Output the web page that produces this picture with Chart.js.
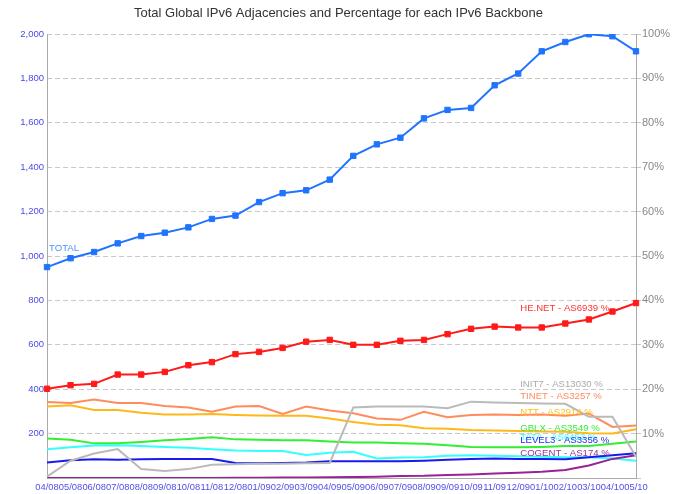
<!DOCTYPE html>
<html>
<head>
<meta charset="utf-8">
<script src="https://cdn.jsdelivr.net/npm/chart.js@4.4.0/dist/chart.umd.min.js"></script>
<style>
html, body { margin: 0; padding: 0; background: #fff; }
#wrap { width: 677px; height: 494px; }
</style>
</head>
<body>
<div id="wrap"><canvas id="chart"></canvas></div>
<script>
const months = ['04/08', '05/08', '06/08', '07/08', '08/08', '09/08', '10/08', '11/08', '12/08',
  '01/09', '02/09', '03/09', '04/09', '05/09', '06/09', '07/09', '08/09', '09/09', '10/09', '11/09', '12/09',
  '01/10', '02/10', '03/10', '04/10', '05/10'];

// adjacency count (left axis)
const total = [950, 990, 1018, 1057, 1090, 1105, 1129, 1167, 1182, 1243, 1283, 1296, 1344,
  1451, 1503, 1533, 1620, 1658, 1667, 1769, 1822, 1922, 1964, 1999, 1990, 1922];

// percentages (right axis)
const henet = [20.1, 20.9, 21.2, 23.3, 23.3, 23.9, 25.4, 26.1, 27.9, 28.4, 29.3, 30.7, 31.1,
  30.0, 30.0, 30.9, 31.1, 32.4, 33.6, 34.1, 33.9, 33.9, 34.8, 35.7, 37.5, 39.4];
const init7 = [0.3, 3.9, 5.5, 6.5, 2.0, 1.6, 2.0, 3.0, 3.1, 3.2, 3.2, 3.3, 3.4,
  15.9, 16.1, 16.1, 16.1, 15.7, 17.2, 17.0, 16.9, 16.8, 16.7, 13.8, 13.8, 4.8];
const tinet = [17.1, 16.9, 17.7, 16.9, 16.9, 16.2, 15.9, 14.9, 16.1, 16.2, 14.4, 16.1, 15.2,
  14.6, 13.4, 13.1, 14.9, 13.7, 14.2, 14.3, 14.2, 14.3, 14.0, 14.5, 11.5, 11.8];
const ntt = [16.1, 16.4, 15.3, 15.3, 14.7, 14.3, 14.3, 14.4, 14.2, 14.1, 14.0, 14.0, 13.4,
  12.6, 12.0, 11.9, 11.2, 11.1, 10.8, 10.7, 10.6, 10.5, 10.4, 10.1, 10.0, 11.0];
const gblx = [8.9, 8.6, 7.8, 7.8, 8.1, 8.5, 8.8, 9.2, 8.7, 8.6, 8.5, 8.5, 8.2,
  8.0, 8.0, 7.8, 7.7, 7.4, 7.0, 6.9, 6.9, 7.0, 7.2, 7.2, 7.7, 8.2];
const tata = [6.5, 6.9, 7.3, 7.4, 7.2, 7.0, 6.8, 6.5, 6.2, 6.1, 6.1, 5.2, 5.7,
  5.9, 4.4, 4.6, 4.7, 5.0, 5.1, 5.0, 4.9, 4.8, 4.7, 4.7, 4.4, 3.9];
const level3 = [3.5, 4.0, 4.2, 4.1, 4.2, 4.3, 4.3, 4.3, 3.4, 3.3, 3.4, 3.5, 3.8,
  3.8, 3.8, 3.8, 3.9, 4.1, 4.3, 4.4, 4.3, 4.3, 4.2, 4.7, 5.1, 5.6];
const cogent = [0, 0, 0, 0, 0, 0, 0, 0, 0.05, 0.05, 0.1, 0.1, 0.15,
  0.2, 0.3, 0.45, 0.5, 0.7, 0.8, 1.0, 1.2, 1.4, 1.8, 2.8, 4.3, 5.1];

const leftTicks = [0, 200, 400, 600, 800, 1000, 1200, 1400, 1600, 1800, 2000];
const rightTicks = [0, 10, 20, 30, 40, 50, 60, 70, 80, 90, 100];

const FONT = '"Liberation Sans", Arial, Helvetica, sans-serif';

function pctLine(label, data, color, tagColor) {
  return {
    label: label, data: data, yAxisID: 'y1',
    borderColor: color, backgroundColor: color, borderWidth: 2,
    pointRadius: 0, tension: 0, tagAt: 20, tagColor: tagColor || color
  };
}

// names written next to each line
const seriesLabels = {
  id: 'seriesLabels',
  afterDatasetsDraw(chart) {
    const c = chart.ctx;
    c.save();
    c.font = '9.6px ' + FONT;
    c.textAlign = 'left';
    c.textBaseline = 'middle';
    for (let i = chart.data.datasets.length - 1; i >= 0; i--) {
      const ds = chart.data.datasets[i];
      const pt = chart.getDatasetMeta(i).data[ds.tagAt];
      if (!pt) continue;
      c.fillStyle = ds.tagColor;
      c.fillText(ds.label, pt.x + 2, pt.y - 19);
    }
    c.restore();
  }
};

new Chart(document.getElementById('chart'), {
  type: 'line',
  data: {
    labels: months,
    datasets: [
      {
        label: 'TOTAL', data: total, yAxisID: 'y',
        borderColor: '#1f74ff', backgroundColor: '#1f74ff', borderWidth: 2,
        pointStyle: 'rect', pointRadius: 3.8, pointBorderWidth: 1, tension: 0,
        tagAt: 0, tagColor: '#4d94ff'
      },
      {
        label: 'HE.NET - AS6939 %', data: henet, yAxisID: 'y1',
        borderColor: '#ff1a1a', backgroundColor: '#ff1a1a', borderWidth: 2,
        pointStyle: 'rect', pointRadius: 3.8, pointBorderWidth: 1, tension: 0,
        tagAt: 20, tagColor: '#ff3333'
      },
      pctLine('INIT7 - AS13030 %', init7, '#bababa', '#aaaaaa'),
      pctLine('TINET - AS3257 %', tinet, '#ff8c5c'),
      pctLine('NTT - AS2914 %', ntt, '#ffb81c', '#ffc21a'),
      pctLine('GBLX - AS3549 %', gblx, '#33ee33'),
      pctLine('LEVEL3 - AS3356 %', level3, '#1a1aee', '#2b2bee'),
      pctLine('COGENT - AS174 %', cogent, '#992299', '#993399'),
      pctLine('TATA - AS6453 %', tata, '#33ffff')
    ]
  },
  options: {
    responsive: true,
    maintainAspectRatio: false,
    animation: false,
    devicePixelRatio: 1,
    layout: { padding: 0 },
    plugins: {
      legend: { display: false },
      tooltip: { enabled: false },
      title: {
        display: true,
        text: 'Total Global IPv6 Adjacencies and Percentage for each IPv6 Backbone',
        color: '#333',
        font: { family: FONT, size: 13, weight: 'normal' },
        padding: { top: 6, bottom: 12.4 }
      }
    },
    scales: {
      x: {
        offset: false,
        grid: { display: false, drawTicks: false },
        border: { color: '#aaaaaa' },
        ticks: {
          autoSkip: false, maxRotation: 0, minRotation: 0, padding: 4,
          color: '#5050e8', font: { family: FONT, size: 9.4 }
        },
        afterFit: s => { s.height = 16; }
      },
      y: {
        position: 'left', min: 0, max: 2000,
        afterBuildTicks: s => { s.ticks = leftTicks.map(v => ({ value: v })); },
        grid: { display: false, drawTicks: false },
        border: { color: '#aaaaaa' },
        ticks: {
          padding: 3, color: '#4b4be6', font: { family: FONT, size: 9.5 },
          callback: v => v === 0 ? '' : v.toLocaleString('en-US')
        },
        afterFit: s => { s.width = 47; }
      },
      y1: {
        position: 'right', min: 0, max: 100,
        afterBuildTicks: s => { s.ticks = rightTicks.map(v => ({ value: v })); },
        grid: { color: '#c8c8c8', drawTicks: true, tickLength: 5 },
        border: { color: '#aaaaaa', dash: [5, 3] },
        ticks: {
          padding: 1, color: '#888888', font: { family: FONT, size: 11 },
          callback: v => v === 0 ? '' : v + '%'
        },
        afterFit: s => { s.width = 41; }
      }
    }
  },
  plugins: [seriesLabels]
});
</script>
</body>
</html>
